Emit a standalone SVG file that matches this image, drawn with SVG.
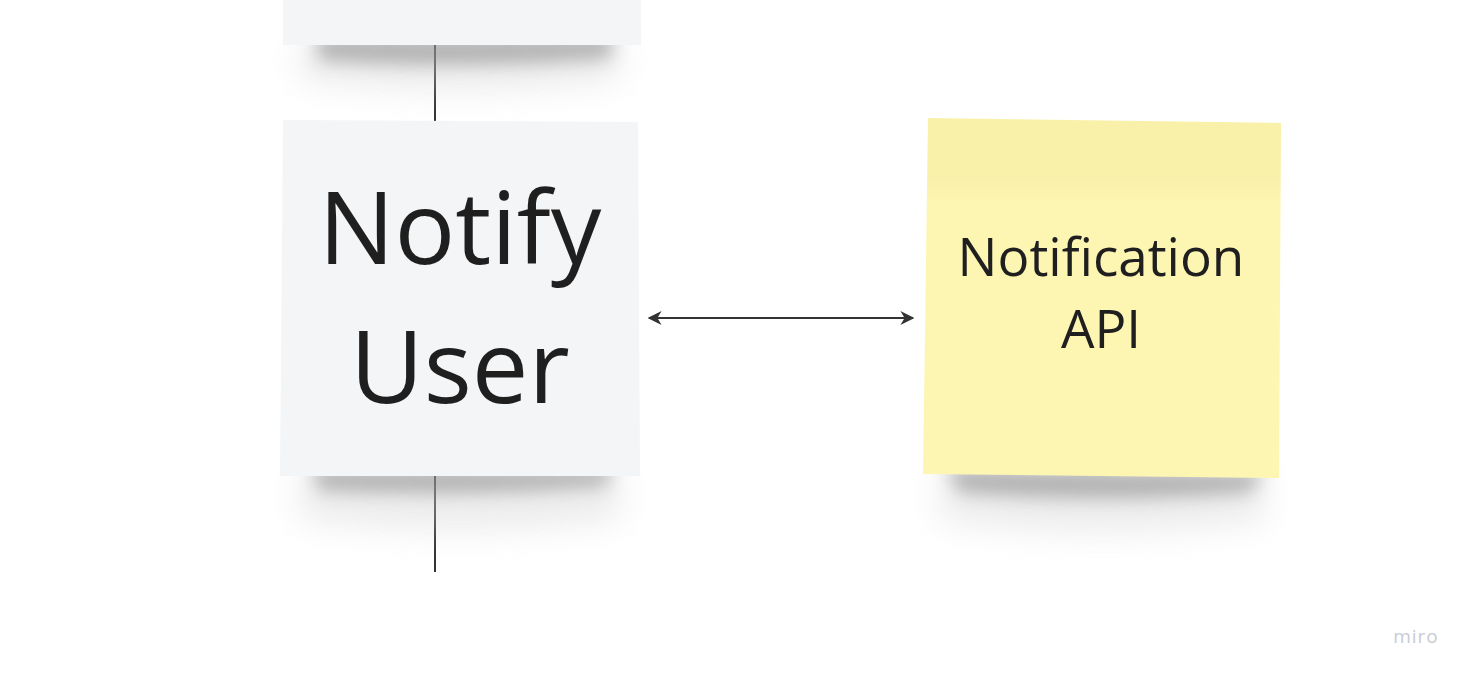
<svg xmlns="http://www.w3.org/2000/svg" width="1474" height="678" viewBox="0 0 1474 678">
<style>
.lbl{font-family:"Open Sans","Liberation Sans",sans-serif;fill:#1f1f1f;text-anchor:middle}
.conn{stroke:#333;stroke-width:2;fill:none}
</style>
<defs>
<filter id="sh" x="-20%" y="-100%" width="140%" height="300%"><feGaussianBlur stdDeviation="9"/></filter>
<filter id="sh2" x="-20%" y="-100%" width="140%" height="300%"><feGaussianBlur stdDeviation="16"/></filter>
<marker id="ah" viewBox="0 0 10 10" refX="9" refY="5" markerWidth="14" markerHeight="14" orient="auto-start-reverse" markerUnits="userSpaceOnUse"><path d="M0,0 L10,5 L0,10 L3,5 Z" fill="#333"/></marker>
<linearGradient id="yg" x1="0" y1="0" x2="0" y2="1"><stop offset="0" stop-color="#f9f1aa"/><stop offset="0.15" stop-color="#f8f0a9"/><stop offset="0.25" stop-color="#fdf6b2"/><stop offset="1" stop-color="#fdf6b3"/></linearGradient>
</defs>
<rect width="1474" height="678" fill="#ffffff"/>
<g id="connectors">
<line class="conn" x1="435" y1="40" x2="435" y2="125"/>
<line class="conn" x1="435" y1="470" x2="435" y2="572"/>
<line class="conn" x1="649" y1="318" x2="913" y2="318" marker-start="url(#ah)" marker-end="url(#ah)"/>
</g>
<g id="node-top">
<path d="M300,40 Q460,50 620,40 L620,80 Q460,100 300,80 Z" fill="#d0d0d0" opacity="0.4" filter="url(#sh2)"/>
<path d="M315,36 L615,36 L610,58 Q460,70 320,60 Z" fill="#888" opacity="0.6" filter="url(#sh)"/>
<rect x="283" y="0" width="358" height="45" fill="#f4f5f7"/>
</g>
<g id="node-notify">
<path d="M300,470 Q460,480 620,470 L620,520 Q460,540 300,520 Z" fill="#d0d0d0" opacity="0.4" filter="url(#sh2)"/>
<path d="M310,468 L615,468 L605,486 Q460,498 320,490 Z" fill="#888" opacity="0.6" filter="url(#sh)"/>
<path d="M283,120 L638,122 L640,476 L280,476 Z" fill="#f4f5f7"/>
<text class="lbl" x="460" y="264" font-size="101">Notify</text>
<text class="lbl" x="460" y="403" font-size="101">User</text>
</g>
<g id="node-api">
<path d="M940,470 Q1100,480 1265,472 L1265,520 Q1100,545 940,520 Z" fill="#d0d0d0" opacity="0.4" filter="url(#sh2)"/>
<path d="M945,468 L1265,472 L1250,492 Q1100,504 960,492 Z" fill="#888" opacity="0.6" filter="url(#sh)"/>
<path d="M928,118 L1281,123 L1279,478 L923,474 Z" fill="url(#yg)"/>
<text class="lbl" x="1101" y="276" font-size="53">Notification</text>
<text class="lbl" x="1101" y="348" font-size="53">API</text>
</g>
<text x="1416" y="643" font-family="'Open Sans',sans-serif" font-size="19" letter-spacing="1" fill="#c9cbd4" text-anchor="middle">miro</text>
</svg>
